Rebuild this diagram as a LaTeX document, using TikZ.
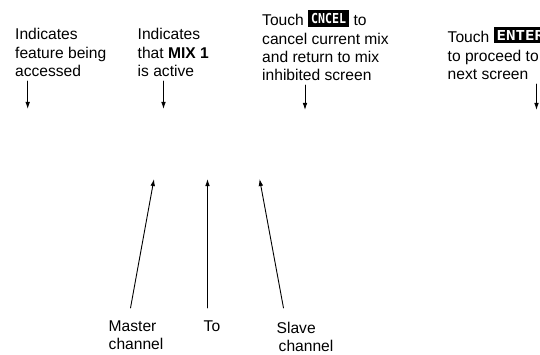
\documentclass[tikz,border=0pt]{standalone}
\usepackage{fontspec}
\setmainfont{Liberation Sans}
\newfontfamily\keyfont{DejaVu Sans Mono}
\usepackage{graphicx}
\usepackage{tkz-euclide}
\usetikzlibrary{arrows.meta}
\newcommand\screenkey[2][.85]{%
  \raisebox{2.5pt}{\setlength\fboxsep{3pt}\colorbox{black}{%
    \scalebox{#1}[1]{\color{white}\keyfont\bfseries\fontsize{13.7}{14}\selectfont #2}}}}
\tikzset{
  callout text/.style={anchor=north west, inner sep=0pt, align=left,
    font=\fontsize{15.6}{18.3}\selectfont},
  channel text/.style={callout text, font=\fontsize{15.6}{18}\selectfont},
  callout arrow/.style={line width=.9pt,->},
}

\begin{document}
\begin{tikzpicture}[>={Latex[length=7pt,width=4.6pt]},x=1pt,y=1pt]
\useasboundingbox (0,0) rectangle (540,354);
\tkzDefPoints{15/325.7/F, 137.5/325.7/M, 262/344/C, 447.5/326.8/E,
  108.5/33.5/Ma, 203.5/33.5/To, 276.5/32.5/Sl}
\tkzDefPoints{27.7/273/F1, 27.7/245/F2, 163.5/273/M1, 163.5/245/M2,
  305/269/C1, 305/244/C2, 536.5/270/E1, 536.5/244/E2}
\tkzDefPoints{130.5/46/Ma1, 154/175/Ma2, 207.5/46/To1, 207.5/175/To2,
  283.5/46/Sl1, 259.6/175/Sl2}
% callouts along the top
\node[callout text] (feature) at (F) {Indicates\\feature being\\accessed};
\node[callout text] (mixone) at (M) {Indicates\\that \textbf{MIX 1}\\is active};
\node[callout text] (cancel) at (C) {Touch \screenkey{CNCEL} to\\cancel current mix\\and return to mix\\inhibited screen};
\node[callout text] (enter) at (E) {Touch \screenkey[1.15]{ENTER}\\to proceed to\\next screen};
\tkzDrawSegments[callout arrow](F1,F2 M1,M2 C1,C2 E1,E2)
% channel labels below
\node[channel text] (master) at (Ma) {Master\\channel};
\node[channel text] (target) at (To) {To};
\node[channel text] (slave) at (Sl) {Slave\\\hspace*{2pt}channel};
\tkzDrawSegments[callout arrow](Ma1,Ma2 To1,To2 Sl1,Sl2)
\end{tikzpicture}
\end{document}
